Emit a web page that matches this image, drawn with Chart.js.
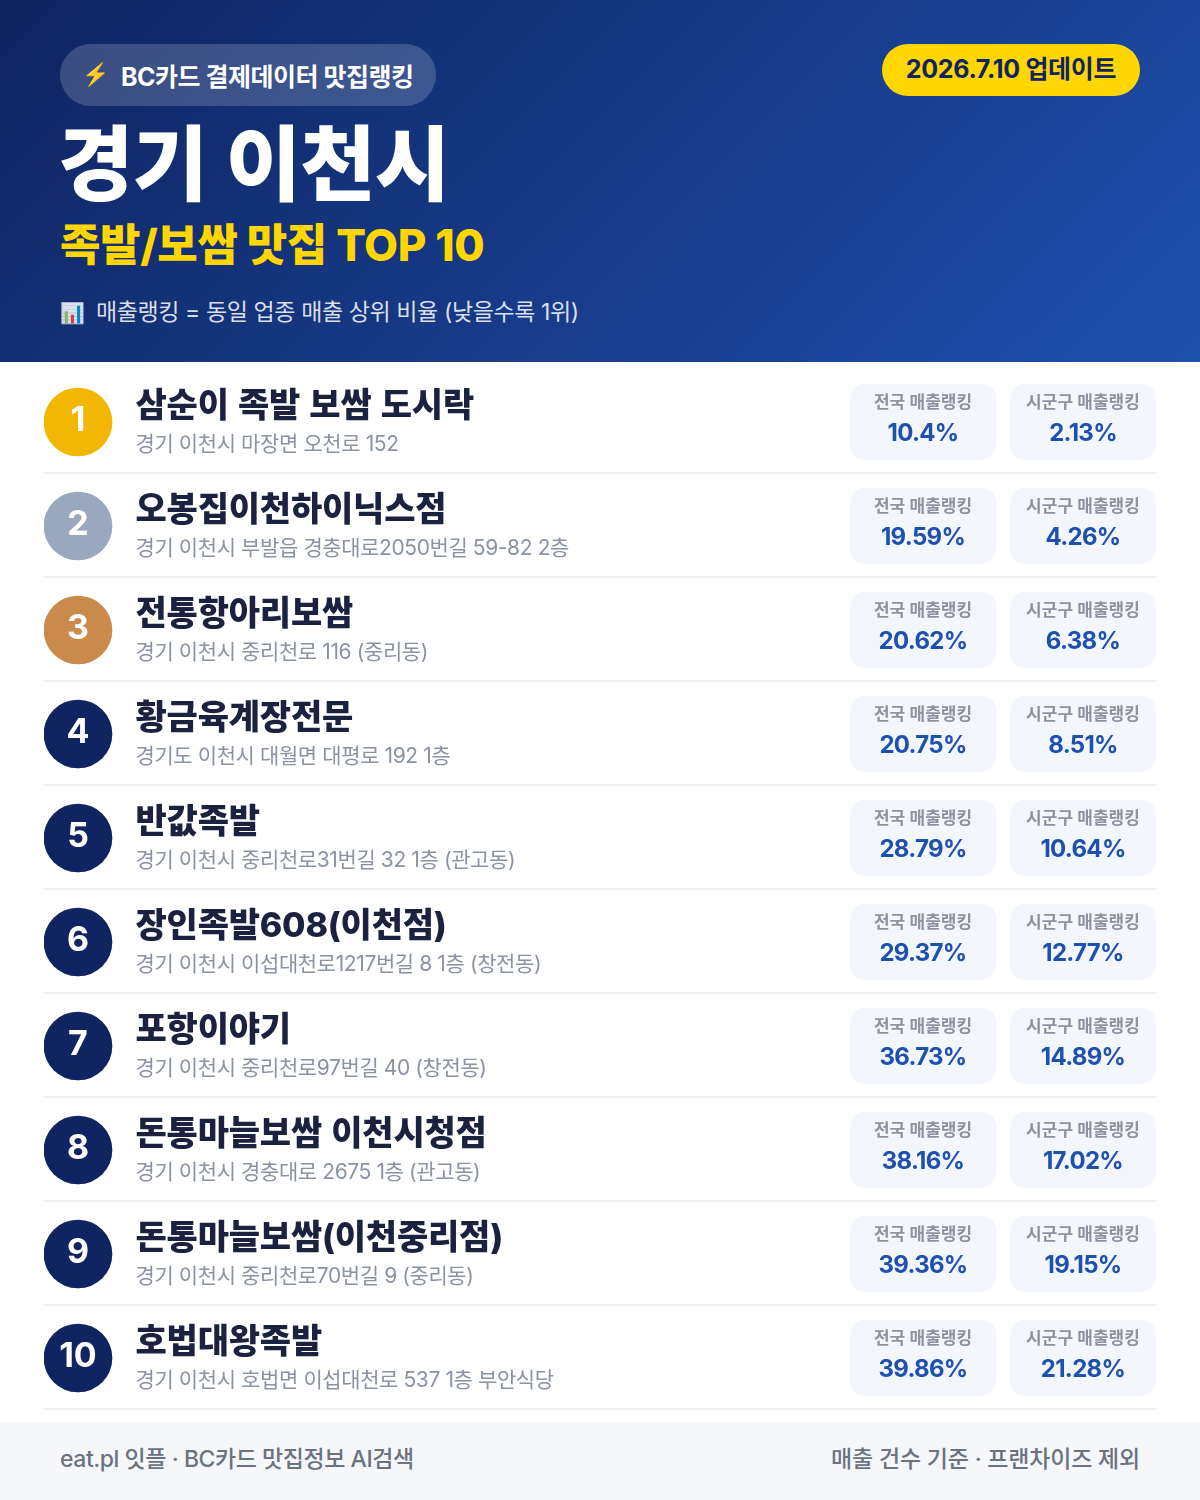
<!DOCTYPE html>
<html lang="ko">
<head>
<meta charset="utf-8">
<title>경기 이천시 족발/보쌈 맛집 TOP 10</title>
<script src="https://cdn.jsdelivr.net/npm/chart.js@4"></script>
<style>
  * { margin: 0; padding: 0; box-sizing: border-box; }
  html, body { width: 1200px; height: 1500px; background: #fff; overflow: hidden; }
  body { position: relative; font-family: Inter, "Noto Sans CJK KR", "Noto Sans", sans-serif; }
  #header { position: absolute; left: 0; top: 0; width: 1200px; height: 362px; background: linear-gradient(135deg, #0f2460 0%, #1e50ad 100%); }
  #header div, #footer div { position: absolute; white-space: nowrap; }
  #badge { left: 60px; top: 44px; width: 376px; height: 62px; border-radius: 31px; background: rgba(255,255,255,0.18); color: #fff; font-size: 25px; font-weight: 700; line-height: 66px; padding-left: 22px; letter-spacing: -0.5px; }
  #badge span { display: inline-block; width: 39px; font-size: 22px; line-height: 60px; vertical-align: top; }
  #date { left: 882px; top: 44px; width: 258px; height: 52px; border-radius: 26px; background: #ffd600; color: #0f2460; font-size: 25px; font-weight: 700; line-height: 50px; text-align: center; letter-spacing: -0.3px; }
  #title { left: 58px; top: 107px; font-size: 82px; font-weight: 800; color: #fff; line-height: 116px; letter-spacing: -1px; word-spacing: 2px; }
  #subtitle { left: 60px; top: 213px; font-size: 44px; font-weight: 800; color: #ffd600; line-height: 64px; letter-spacing: -0.4px; }
  #note { left: 60px; top: 294px; font-size: 23px; color: rgba(255,255,255,0.85); line-height: 36px; letter-spacing: -0.4px; }
  #note span { display: inline-block; width: 36px; font-size: 20px; }
  #footer { position: absolute; left: 0; top: 1422px; width: 1200px; height: 78px; background: #f5f7fb; color: #6b7280; font-size: 23px; font-weight: 500; line-height: 74px; }
  #chart-wrap { position: absolute; left: 0; top: 362px; width: 1200px; height: 1060px; }
</style>
</head>
<body>
<div id="header">
  <div id="badge"><span>⚡</span>BC카드 결제데이터 맛집랭킹</div>
  <div id="date">2026.7.10 업데이트</div>
  <div id="title">경기 이천시</div>
  <div id="subtitle">족발/보쌈 맛집 TOP 10</div>
  <div id="note"><span>📊</span>매출랭킹 = 동일 업종 매출 상위 비율 (낮을수록 1위)</div>
</div>
<div id="chart-wrap"><canvas id="rankChart" width="1200" height="1060"></canvas></div>
<div id="footer">
  <div style="left:60px;top:0;letter-spacing:-0.45px">eat.pl 잇플 · BC카드 맛집정보 AI검색</div>
  <div style="right:60px;top:0;letter-spacing:-0.2px">매출 건수 기준 · 프랜차이즈 제외</div>
</div>
<script>
// 순위 데이터
const ranks = ['1', '2', '3', '4', '5', '6', '7', '8', '9', '10'];
const storeNames = ['삼순이 족발 보쌈 도시락', '오봉집이천하이닉스점', '전통항아리보쌈', '황금육계장전문', '반값족발', '장인족발608(이천점)', '포항이야기', '돈통마늘보쌈 이천시청점', '돈통마늘보쌈(이천중리점)', '호법대왕족발'];
const addresses = ['경기 이천시 마장면 오천로 152', '경기 이천시 부발읍 경충대로2050번길 59-82 2층', '경기 이천시 중리천로 116 (중리동)', '경기도 이천시 대월면 대평로 192 1층', '경기 이천시 중리천로31번길 32 1층 (관고동)', '경기 이천시 이섭대천로1217번길 8 1층 (창전동)', '경기 이천시 중리천로97번길 40 (창전동)', '경기 이천시 경충대로 2675 1층 (관고동)', '경기 이천시 중리천로70번길 9 (중리동)', '경기 이천시 호법면 이섭대천로 537 1층 부안식당'];
const nationalRank = [10.4, 19.59, 20.62, 20.75, 28.79, 29.37, 36.73, 38.16, 39.36, 39.86];
const localRank = [2.13, 4.26, 6.38, 8.51, 10.64, 12.77, 14.89, 17.02, 19.15, 21.28];
const nationalLabel = '전국 매출랭킹';
const localLabel = '시군구 매출랭킹';

const FONT = 'Inter, "Noto Sans CJK KR", "Noto Sans", sans-serif';
const badgeColors = ['#f2b705', '#9aa8bf', '#c98a4b', '#0f2460', '#0f2460', '#0f2460', '#0f2460', '#0f2460', '#0f2460', '#0f2460'];

// 가로 위치 (x축 = 페이지 픽셀)
const COL_BADGE = [44, 112], COL_NATIONAL = [850, 996], COL_LOCAL = [1010, 1156], TEXT_X = 135.5;

function putText(ctx, text, x, y, font, color, align, spacing, wordGap) {
  ctx.font = font;
  ctx.fillStyle = color;
  ctx.textAlign = align;
  ctx.textBaseline = 'alphabetic';
  ctx.letterSpacing = spacing || '0px';
  ctx.wordSpacing = wordGap || '0px';
  ctx.fillText(text, x, y);
}

// 행 구분선: 카테고리 경계 바로 위
const rowRules = {
  id: 'rowRules',
  beforeDatasetsDraw(chart) {
    const ctx = chart.ctx, ys = chart.scales.y, area = chart.chartArea;
    ctx.save();
    ctx.fillStyle = '#eceef2';
    storeNames.forEach((name, i) => {
      const bottom = (ys.getPixelForValue(i) + ys.getPixelForValue(i + 1)) / 2;
      ctx.fillRect(area.left, bottom - 2, area.right - area.left, 2);
    });
    ctx.restore();
  }
};

const rowText = {
  id: 'rowText',
  afterDatasetsDraw(chart) {
    const ctx = chart.ctx, xs = chart.scales.x, ys = chart.scales.y;
    ctx.save();
    const midNat = xs.getPixelForValue((COL_NATIONAL[0] + COL_NATIONAL[1]) / 2);
    const midLoc = xs.getPixelForValue((COL_LOCAL[0] + COL_LOCAL[1]) / 2);
    const midBadge = xs.getPixelForValue((COL_BADGE[0] + COL_BADGE[1]) / 2);
    storeNames.forEach((name, i) => {
      const y = ys.getPixelForValue(i);
      putText(ctx, ranks[i], midBadge, y + 9, '700 34px ' + FONT, '#ffffff', 'center');
      putText(ctx, name, xs.getPixelForValue(TEXT_X), y - 5, '800 34px ' + FONT, '#1a2240', 'left', '-0.2px', '2px');
      putText(ctx, addresses[i], xs.getPixelForValue(TEXT_X), y + 29, '400 21px ' + FONT, '#8b93a3', 'left', '-0.4px');
      putText(ctx, nationalLabel, midNat, y - 14, '600 17px ' + FONT, '#8b93a3', 'center');
      putText(ctx, nationalRank[i] + '%', midNat, y + 19, '700 24px ' + FONT, '#1e50ad', 'center', '-0.7px');
      putText(ctx, localLabel, midLoc, y - 14, '600 17px ' + FONT, '#8b93a3', 'center');
      putText(ctx, localRank[i] + '%', midLoc, y + 19, '700 24px ' + FONT, '#1e50ad', 'center', '-0.7px');
    });
    ctx.restore();
  }
};

new Chart(document.getElementById('rankChart').getContext('2d'), {
  type: 'bar',
  data: {
    labels: storeNames,
    datasets: [
      { label: '순위', data: ranks.map(() => COL_BADGE), backgroundColor: badgeColors, barThickness: 68, borderRadius: 34, borderSkipped: false, grouped: false },
      { label: nationalLabel, data: nationalRank.map(() => COL_NATIONAL), backgroundColor: '#f3f6fc', barThickness: 76, borderRadius: 16, borderSkipped: false, grouped: false },
      { label: localLabel, data: localRank.map(() => COL_LOCAL), backgroundColor: '#f3f6fc', barThickness: 76, borderRadius: 16, borderSkipped: false, grouped: false }
    ]
  },
  options: {
    indexAxis: 'y',
    responsive: false,
    animation: false,
    layout: { padding: { left: 44, right: 44, top: 8, bottom: 12 } },
    plugins: { legend: { display: false }, tooltip: { enabled: false } },
    scales: {
      x: { type: 'linear', min: 44, max: 1156, display: false },
      y: {
        type: 'category',
        ticks: { display: false },
        border: { display: false },
        grid: { display: false, drawTicks: false }
      }
    }
  },
  plugins: [rowRules, rowText]
});
</script>
</body>
</html>
